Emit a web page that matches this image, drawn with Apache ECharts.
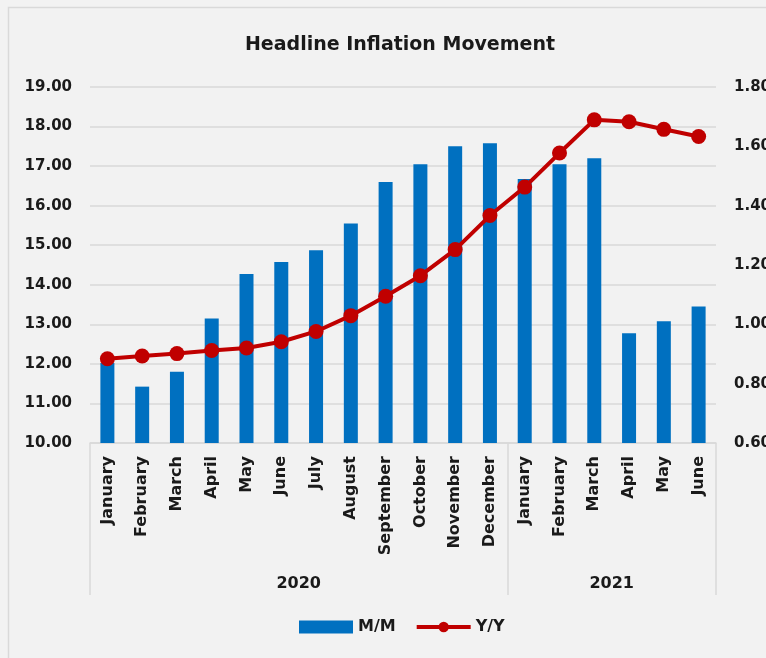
<!DOCTYPE html>
<html>
<head>
<meta charset="utf-8">
<script src="https://cdn.jsdelivr.net/npm/echarts@6/dist/echarts.min.js"></script>
<style>
html,body{margin:0;padding:0;background:#f2f2f2;}
#chart{width:766px;height:658px;}
</style>
</head>
<body>
<div id="chart"></div>
<script>
// ---- data ----
const months = ['January','February','March','April','May','June','July','August','September','October','November','December',
                'January','February','March','April','May','June'];
const years = ['2020','2021'];
const yearSpans = [12, 6];
const mm = [0.87,0.79,0.84,1.02,1.17,1.21,1.25,1.34,1.48,1.54,1.60,1.61,1.49,1.54,1.56,0.97,1.01,1.06];
const yy = [12.13,12.20,12.26,12.34,12.40,12.56,12.82,13.22,13.71,14.23,14.89,15.75,16.47,17.33,18.17,18.12,17.93,17.75];
const leftTicks = {min:10, max:19, interval:1};
const rightTicks = {min:0.6, max:1.8, interval:0.2};

// boundaries & centers for year groups
const bounds = [0];
yearSpans.forEach(s => bounds.push(bounds[bounds.length-1] + s));
const centers = yearSpans.map((s,i) => bounds[i] + s/2);

const FONT = 'DejaVu Sans';
const TXT = '#1a1a1a';
const GRID = '#d9d9d9';
const RED = '#c00000';
const BLUE = '#0070c0';

const chart = echarts.init(document.getElementById('chart'));
chart.setOption({
  backgroundColor: '#f2f2f2',
  animation: false,
  title: {
    text: 'Headline Inflation Movement',
    left: 395, top: 31, textAlign: 'center',
    textStyle: {fontFamily: FONT, fontSize: 19, fontWeight: 'bold', color: TXT}
  },
  graphic: [{
    type: 'rect', silent: true,
    shape: {x: 8.5, y: 7.5, width: 800, height: 700},
    style: {fill: 'none', stroke: GRID, lineWidth: 1.5}
  }],
  legend: {
    bottom: 18, left: 294,
    itemWidth: 54, itemHeight: 13, itemGap: 19,
    textStyle: {fontFamily: FONT, fontSize: 16, fontWeight: 'bold', color: TXT},
    data: [
      {name:'M/M', icon:'rect'},
      {name:'Y/Y', itemStyle: {color: RED}, lineStyle: {color: RED, width: 4}}
    ]
  },
  grid: {left: 90, right: 50, top: 87, bottom: 215, containLabel: false, outerBoundsMode: 'none'},
  xAxis: [{
    type: 'category', data: months,
    axisLine: {show: true, lineStyle: {color: GRID, width: 1.5}},
    axisTick: {show: false},
    axisLabel: {rotate: 90, margin: 13, interval: 0, fontFamily: FONT, fontSize: 16, fontWeight: 'bold', color: TXT}
  }, {
    type: 'value', min: 0, max: months.length, position: 'bottom',
    axisLine: {show: false}, splitLine: {show: false},
    axisTick: {show: true, customValues: bounds, length: 152, lineStyle: {color: GRID, width: 1.5}},
    axisLabel: {
      customValues: centers, margin: 133,
      formatter: v => years[centers.indexOf(v)] || '',
      fontFamily: FONT, fontSize: 16, fontWeight: 'bold', color: TXT
    }
  }],
  yAxis: [{
    type: 'value', position: 'left', min: leftTicks.min, max: leftTicks.max, interval: leftTicks.interval,
    axisLine: {show: false}, axisTick: {show: false},
    splitLine: {lineStyle: {color: GRID, width: 1.5}},
    axisLabel: {margin: 18, formatter: v => v.toFixed(2), fontFamily: FONT, fontSize: 15, fontWeight: 'bold', color: TXT}
  }, {
    type: 'value', position: 'right', min: rightTicks.min, max: rightTicks.max, interval: rightTicks.interval,
    axisLine: {show: false}, axisTick: {show: false}, splitLine: {show: false},
    axisLabel: {margin: 18, formatter: v => v.toFixed(2), fontFamily: FONT, fontSize: 15, fontWeight: 'bold', color: TXT}
  }],
  series: [{
    name: 'M/M', type: 'bar', xAxisIndex: 0, yAxisIndex: 1, data: mm,
    barWidth: 14, itemStyle: {color: BLUE}
  }, {
    name: 'Y/Y', type: 'line', xAxisIndex: 0, yAxisIndex: 0, data: yy,
    symbol: 'circle', symbolSize: 15,
    lineStyle: {color: RED, width: 4}, itemStyle: {color: RED}
  }]
});
</script>
</body>
</html>
